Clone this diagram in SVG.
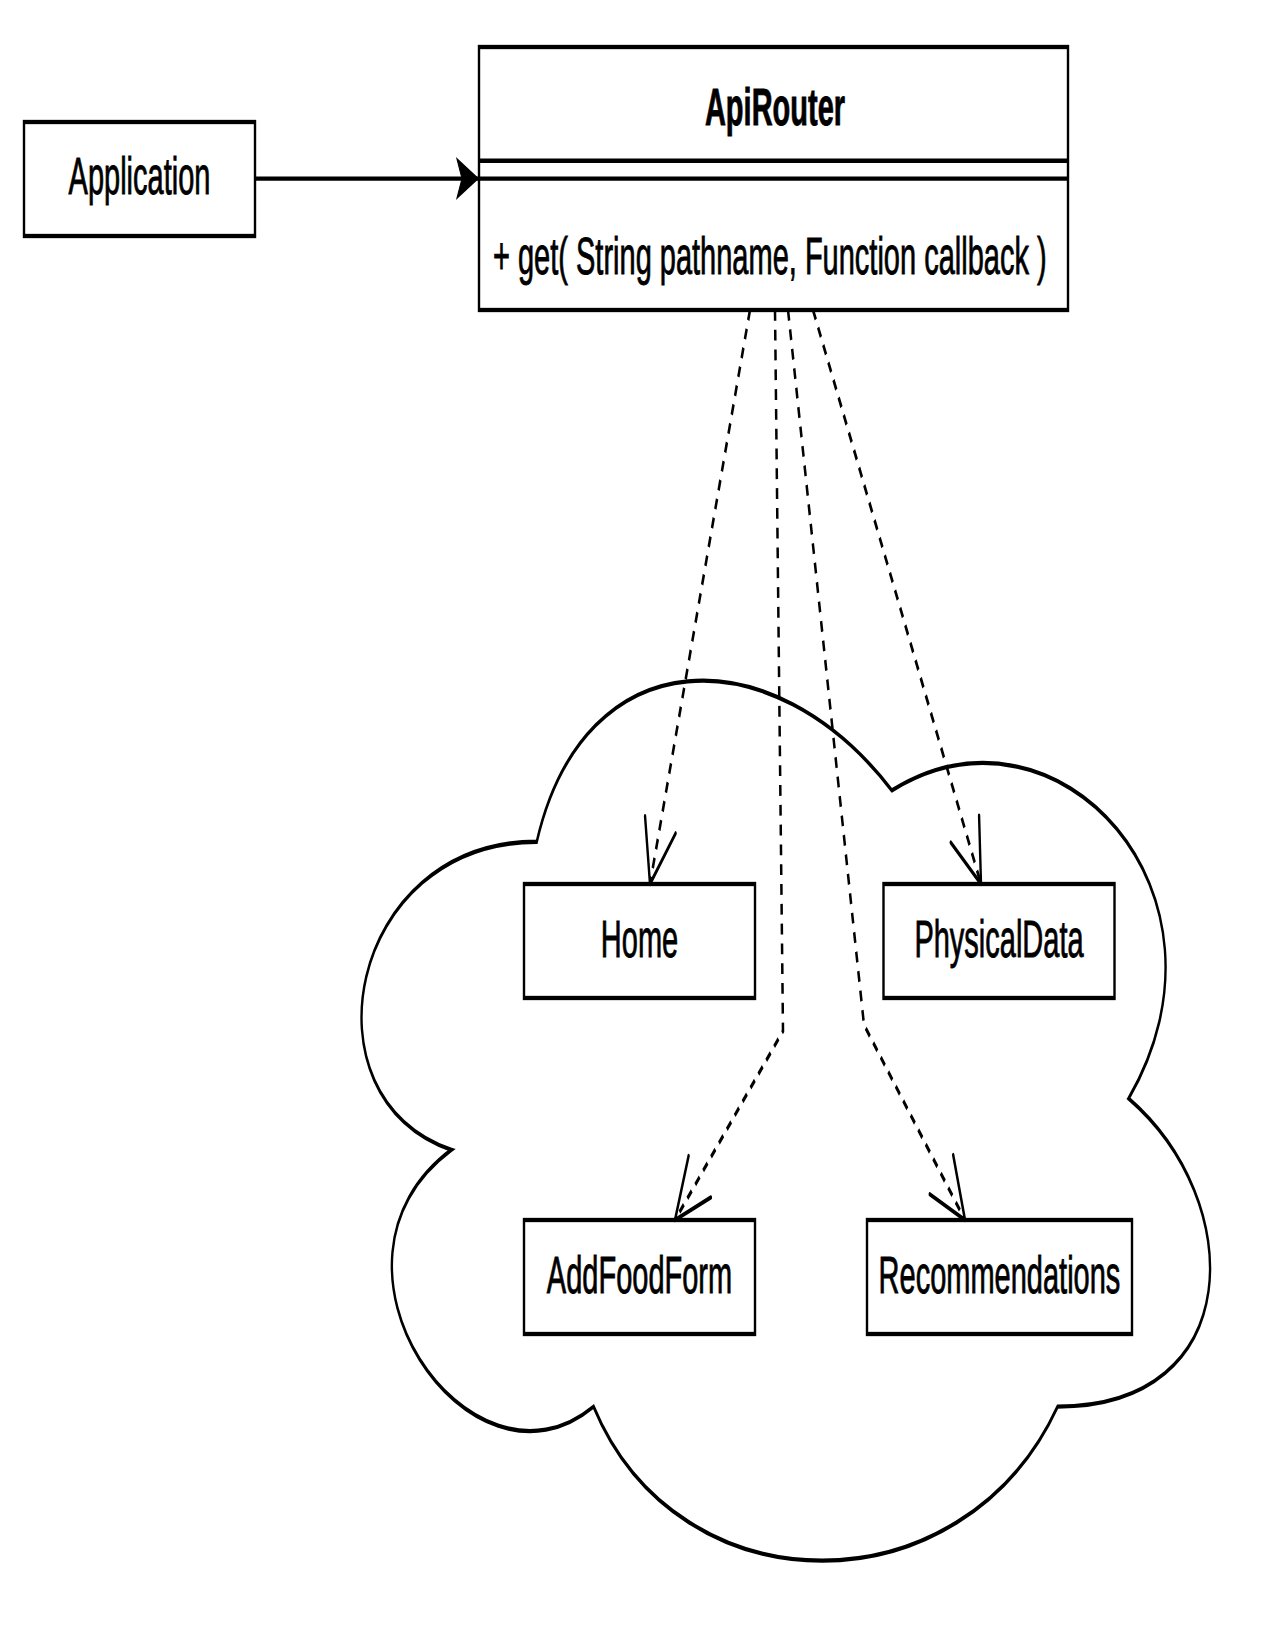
<svg xmlns="http://www.w3.org/2000/svg" width="1275" height="1650" viewBox="0 0 1275 1650">
<style>
.box{fill:#fff;stroke:#000;stroke-width:2.4}
.line{fill:none;stroke:#000;stroke-width:2.4}
.cloud{fill:#fff;stroke:#000;stroke-width:2.4}
.lbl{font-family:"Liberation Sans",Arial,Helvetica,sans-serif;font-size:29px;fill:#000;stroke:#000;stroke-width:0.5}
.mid{text-anchor:middle}
.bold{font-weight:bold}
.dep{fill:none;stroke:#000;stroke-width:2.5;stroke-dasharray:6 5;marker-end:url(#open)}
.assoc{fill:none;stroke:#000;stroke-width:2.4;marker-end:url(#block)}
</style>
<defs>
<marker id="open" markerUnits="userSpaceOnUse" orient="auto" refX="0" refY="0" markerWidth="50" markerHeight="50" viewBox="-45 -25 50 50" overflow="visible">
<path d="M -34.5 -16 L 0 0 L -34.5 16" fill="none" stroke="#000" stroke-width="2.4" stroke-dasharray="none" stroke-linecap="round" stroke-linejoin="round"/>
</marker>
<marker id="block" markerUnits="userSpaceOnUse" orient="auto" refX="0" refY="0" markerWidth="30" markerHeight="30" viewBox="-25 -15 30 30" overflow="visible">
<path d="M 0 0 L -21 -10.8 L -16 0 L -21 10.8 Z" fill="#000" stroke="#000" stroke-width="1" stroke-linejoin="miter"/>
</marker>
</defs>
<rect width="1275" height="1650" fill="#fff"/>
<g transform="scale(1,1.8)">
<g id="cloud">
<path class="cloud" d="M 536.75 467.64 C 347.35 467.64 300 610.28 451.52 638.81 C 300 701.57 470.46 838.5 593.57 781.44 C 678.8 895.56 962.9 895.56 1057.6 781.44 C 1247 781.44 1247 667.33 1128.6 610.28 C 1247 496.17 1057.6 382.06 891.9 439.11 C 773.5 353.53 584.1 353.53 536.75 467.64 Z"/>
</g>
<g id="application">
<rect class="box" x="24" y="67.78" width="231" height="63.33"/>
<text class="lbl mid" x="139.5" y="107.8">Application</text>
</g>
<g id="apirouter">
<rect class="box" x="479" y="26.11" width="589" height="146.11"/>
<line class="line" x1="479" y1="89.3" x2="1068" y2="89.3"/>
<line class="line" x1="479" y1="99.2" x2="1068" y2="99.2"/>
<text class="lbl mid bold" x="775" y="69.4">ApiRouter</text>
<text class="lbl" x="493" y="152.2">+ get( String pathname, Function callback )</text>
</g>
<g id="home">
<rect class="box" x="524" y="491.11" width="231" height="63.33"/>
<text class="lbl mid" x="639.5" y="531.7">Home</text>
</g>
<g id="physicaldata">
<rect class="box" x="883.5" y="491.11" width="231" height="63.33"/>
<text class="lbl mid" x="999" y="531.7">PhysicalData</text>
</g>
<g id="addfoodform">
<rect class="box" x="524" y="677.78" width="231" height="63.33"/>
<text class="lbl mid" x="639.5" y="718.3">AddFoodForm</text>
</g>
<g id="recommendations">
<rect class="box" x="867" y="677.78" width="265" height="63.33"/>
<text class="lbl mid" x="999.5" y="718.3">Recommendations</text>
</g>
<g id="connectors">
<path class="assoc" d="M 255 99.2 L 478 99.2"/>
<path class="dep" d="M 750 172.2 L 650 491.1"/>
<path class="dep" d="M 775 172.2 L 783 572.8 L 675 677.8"/>
<path class="dep" d="M 788 172.2 L 864 569.4 L 965 677.8"/>
<path class="dep" d="M 813 172.2 L 981 491.1"/>
</g>
</g>
</svg>
